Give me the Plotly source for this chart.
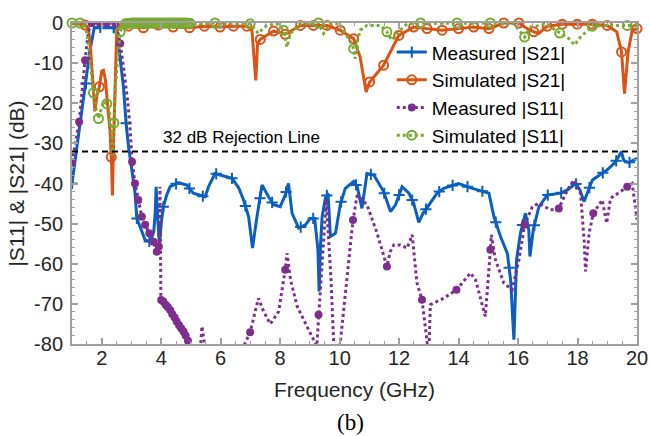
import numpy as np
import plotly.graph_objects as go

# ---------------- data (frequency in GHz, magnitude in dB) ----------------
ms21_f = [1.0, 1.2, 1.47, 1.6, 1.75, 2.0, 2.3, 2.45, 2.56, 2.73, 2.82, 2.9, 3.02, 3.12, 3.18, 3.3,
          3.46, 3.63, 3.75, 3.8, 3.83, 3.86, 3.94, 4.0, 4.07, 4.18, 4.3, 4.58, 4.86, 5.08, 5.3, 5.48,
          5.59, 5.81, 5.98, 6.2, 6.38, 6.6, 6.77, 6.94, 7.07, 7.22, 7.39, 7.61, 7.78, 8.0, 8.17, 8.28,
          8.4, 8.62, 8.85, 9.01, 9.16, 9.27, 9.31, 9.36, 9.41, 9.52, 9.61, 9.69, 9.86, 10.02, 10.19,
          10.47, 10.59, 10.75, 10.92, 11.15, 11.48, 11.71, 11.88, 12.1, 12.33, 12.49, 12.66, 12.8,
          13.0, 13.28, 13.5, 14.0, 14.46, 15.02, 15.19, 15.41, 15.64, 15.75, 15.86, 15.95, 16.08,
          16.25, 16.36, 16.4, 16.51, 16.7, 16.98, 17.43, 17.66, 17.94, 18.08, 18.22, 18.5, 19.0,
          19.28, 19.47, 19.56, 19.73, 20.0]
ms21_db = [-40, -29, -15.1, -7, -1.1, -1.1, -1.1, -1.2, -5.1, -15.9, -25, -30.8, -37, -42.4, -48.7, -51,
           -54.1, -54.5, -52, -47, -40.8, -46, -55.3, -50, -45.8, -43, -40.8, -39.8, -40.4, -42.4, -43, -43.3,
           -40.8, -37.5, -37.9, -38.3, -38.7, -41, -44.1, -48.3, -56.1, -48.3, -40.4, -43.3, -45.3, -45.8, -42.9, -40.0,
           -47.4, -51.1, -50.3, -48.7, -48.7, -56.5, -66.9, -55, -48.3, -43.7, -42.4, -53.2, -52.4, -45.3, -41.2,
           -39.5, -40.8, -46.2, -37.5, -37.9, -42.0, -47.0, -45.3, -40.8, -42.4, -44.9, -49.7, -47.5,
           -45.3, -42.4, -41.2, -40.0, -41.2, -42.4, -48.3, -53.2, -57.4, -64.0, -78.9, -59.0, -52.4,
           -47.4, -51.6, -58.2, -51.6, -45.8, -42.9, -42.4, -41.6, -40.0, -41.6, -44.5, -39.1, -36.6,
           -34.6, -32.1, -34.3, -34.8, -33.7]
ms21_mk = [1.0, 1.47, 1.95, 2.4, 2.82, 3.18, 3.6, 4.07, 4.5, 4.95, 5.4, 5.85, 6.38, 6.83, 7.32, 7.73,
           8.2, 8.69, 9.11, 9.57, 10.05, 10.55, 11.05, 11.5, 12.0, 12.44, 12.9, 13.35, 13.8, 14.3,
           14.8, 15.25, 15.7, 16.15, 16.55, 17.0, 17.45, 17.95, 18.4, 18.85, 19.3, 19.75]

ss21_f = [1.0, 1.2, 1.4, 1.5, 1.56, 1.62, 1.7, 1.77, 1.84, 1.92, 2.0, 2.06, 2.12, 2.19, 2.28, 2.33,
          2.36, 2.39, 2.45, 2.5, 2.58, 2.67, 2.9, 3.4, 3.9, 4.4, 4.95, 5.45, 5.98, 6.43, 6.88, 7.05,
          7.18, 7.24, 7.33, 7.78, 8.17, 8.68, 9.12, 9.58, 10.02, 10.47, 10.69, 10.89, 11.01, 11.48,
          11.99, 12.49, 12.94, 13.45, 14.0, 14.51, 15.02, 15.52, 16.03, 16.31, 16.53, 16.7, 16.98,
          17.49, 17.99, 18.5, 19.0, 19.32, 19.48, 19.58, 19.7, 19.84, 20.0]
ss21_db = [-0.2, -0.2, -0.3, -0.8, -2, -6, -14, -22, -18, -15.9, -12, -11.8, -14, -19.5, -27, -35,
           -43, -32, -15.1, -2.6, -0.8, -0.1, -0.8, -1.2, -0.5, -1, -1.2, -0.8, -1.0, -0.8, -0.8, -1.8,
           -14.3, -5.1, -4.1, -2.0, -2.8, -0.6, -0.6, -0.6, -1.8, -3.9, -8.5, -17.2, -14.7, -10.5,
           -3.1, -1.0, -1.4, -1.8, -1.4, -1.0, -1.4, 0, 0, -1.4, -2.2, -2.6, -0.8,
           -0.3, -0.3, -0.3, -0.6, -2.2, -7.2, -17.6, -7.2, -1.8, -1.4]
ss21_mk = [1.44, 1.92, 2.32, 2.9, 3.4, 3.9, 4.4, 4.95, 5.45, 5.98, 6.43, 6.88, 7.33, 7.78, 8.17, 8.68,
           9.12, 9.58, 10.02, 10.47, 11.01, 11.48, 11.99, 12.49, 12.94, 13.45, 14.0, 14.51, 15.02,
           15.52, 16.03, 16.53, 16.98, 17.49, 17.99, 18.5, 19.0, 19.48, 20.0]

ms11_f = [1.0, 1.24, 1.44, 1.55, 1.66, 1.8, 1.94, 2.05, 2.17, 2.3, 2.45, 2.52, 2.62, 2.75, 2.88, 2.95,
          3.02, 3.12, 3.23, 3.35, 3.46, 3.6, 3.74, 3.85, 3.92, 3.96, 3.99, 4.07, 4.15, 4.22, 4.3, 4.37,
          4.45, 4.52, 4.6, 4.67, 4.75, 4.82, 4.9, 4.97, 5.15, 5.3, 5.37, 5.45, 5.55, 6.5, 6.82, 6.99,
          7.1, 7.27, 7.45, 7.67, 7.95, 8.08, 8.17, 8.23, 8.35, 8.57, 8.9, 9.18, 9.22, 9.29, 9.41, 9.55,
          9.71, 9.8, 9.9, 10.02, 10.25, 10.45, 10.59, 10.92, 11.26, 11.59, 11.7, 11.82, 12.04, 12.27,
          12.44, 12.6, 12.77, 12.94, 13.0, 13.05, 13.5, 13.93, 14.4, 14.57, 14.9, 15.07, 15.1, 15.24,
          15.52, 15.8, 16.03, 16.22, 16.48, 16.7, 17.09, 17.37, 17.66, 17.88, 18.1, 18.22, 18.27,
          18.39, 18.53, 18.83, 18.98, 19.11, 19.67, 19.84, 20.0]
ms11_db = [-34.7, -24.6, -9.3, -2.2, 0, 0, 0, 0, 0, 0, 0, -1.5, -5.1, -12, -20, -26,
           -34.6, -40, -44.1, -48.3, -50.3, -52.4, -54.5, -57, -55.7, -40.8, -69.0, -69.4, -70.2, -70.8, -71.5, -72.5,
           -73.4, -74.4, -75.3, -76.1, -76.9, -77.9, -79.2, -80.5, -84, -83, -75.6, -79.5, -85, -86, -79.8, -77.1,
           -73.5, -68.6, -72, -75, -71.9, -66, -61.5, -57.4, -64, -70.6, -75.6, -79.8, -82, -72.7, -59.9, -44.1,
           -64, -79.8, -84, -79.8, -64, -49.1, -42.9, -45.3, -52.4, -60.7, -57, -55.3, -55.3, -56.1,
           -52.8, -64.8, -69, -79.8, -83, -70.2, -68.6, -66.5, -62.3, -64, -73.1, -56.5, -52.8, -59,
           -64.8, -66.5, -59, -50.3, -45.8, -44.9, -46.6, -46.2, -41.6, -39.1, -42.4, -54, -61.9,
           -52.4, -47.4, -44.1, -49.9, -43.7, -40.8, -40, -49]
ms11_mk = [1.0, 1.24, 1.44, 1.66, 1.94, 2.17, 2.45, 2.62, 3.02, 3.12, 3.23, 3.35, 3.46, 3.6, 3.74,
           3.85, 3.92, 4.0, 4.07, 4.15, 4.22, 4.3, 4.37, 4.45, 4.52, 4.6, 4.67, 4.75, 4.82, 4.9,
           6.99, 8.17, 9.29, 10.45, 11.59, 12.77, 13.93, 15.07, 16.22, 17.37, 18.53, 19.67]

ss11_f = [1.0, 1.27, 1.4, 1.5, 1.58, 1.66, 1.72, 1.8, 1.89, 1.98, 2.06, 2.17, 2.26, 2.32, 2.37, 2.41,
          2.47, 2.53, 2.62, 2.7, 2.78, 3.0, 3.5, 4.0, 4.5, 4.8, 5.3, 5.81, 6.4, 6.99, 7.15, 7.27, 7.4,
          7.55, 7.89, 8.11, 8.23, 8.34, 8.68, 9.0, 9.29, 9.46, 9.69, 10.0, 10.19, 10.35, 10.47, 10.52,
          10.6, 10.69, 10.92, 11.37, 11.59, 11.76, 11.93, 12.27, 12.72, 13.3, 13.95, 14.5, 15.07,
          15.86, 16.08, 16.22, 16.42, 16.98, 17.26, 17.4, 17.71, 17.9, 18.1, 18.5, 19.0, 19.67, 20.0]
ss11_db = [0, 0, -0.5, -2.5, -7, -14, -17.4, -21, -23.8, -21.5, -19.5, -20.1, -22, -28, -33, -24.9,
           -15, -9.3, -2.2, -0.6, -0.2, 0, 0, 0, 0, 0, -0.2, 0, -0.2, -0.2, -1.5, -2.6, -1.5,
           -0.6, -0.2, -1.8, -6.0, -2.6, -0.2, -0.3, 0, -2.6, -0.2, -0.2, -2.6, -4.5, -6.4, -8.9,
           -4.5, -1.8, -0.6, -0.6, -2.2, -4.3, -2.6, -0.2, 0, -0.1, 0, -0.1, 0,
           -0.2, -2.2, -3.5, -1.0, -0.3, -1.8, -2.5, -3.9, -5.5, -3.5, -0.8, -0.6, -0.6, -0.6]
ss11_mk = [1.0, 1.27, 1.72, 1.89, 2.17, 2.41, 2.62, 2.80, 2.87, 2.94, 3.01, 3.08, 3.15, 3.22, 3.29,
           3.36, 3.43, 3.50, 3.57, 3.64, 3.71, 3.78, 3.85, 3.92, 3.99, 4.06, 4.13, 4.20, 4.27, 4.34,
           4.41, 4.48, 4.55, 4.62, 4.69, 4.76, 4.83, 4.90, 4.97, 5.81, 6.99, 8.11, 9.29, 10.47,
           11.59, 12.72, 13.95, 15.07, 16.22, 17.4, 18.5, 19.67]

rejection_db = -32
rejection_label = "32 dB Rejection Line"
x_ticks = [2, 4, 6, 8, 10, 12, 14, 16, 18, 20]
y_ticks = [0, -10, -20, -30, -40, -50, -60, -70, -80]

# ---------------- styling ----------------
BLUE = "#0a5fbf"
ORANGE = "#dc5316"
PURPLE = "#7e2f8e"
GREEN = "#77ac30"
AXIS_GRAY = "#a0a0a0"
FONT = "Arial, Liberation Sans, sans-serif"

series = [
    dict(name="Measured |S21|", f=ms21_f, db=ms21_db, mk=ms21_mk, color=BLUE, dash="solid",
         marker=dict(symbol="cross-thin", size=8, line=dict(width=2, color=BLUE)), clip=True),
    dict(name="Simulated |S21|", f=ss21_f, db=ss21_db, mk=ss21_mk, color=ORANGE, dash="solid",
         marker=dict(symbol="circle-open", size=9, line=dict(width=2, color=ORANGE)), clip=False),
    dict(name="Measured |S11|", f=ms11_f, db=ms11_db, mk=ms11_mk, color=PURPLE, dash="dot",
         marker=dict(symbol="circle", size=8, color=PURPLE), clip=True),
    dict(name="Simulated |S11|", f=ss11_f, db=ss11_db, mk=ss11_mk, color=GREEN, dash="dot",
         marker=dict(symbol="circle-open", size=9, line=dict(width=2, color=GREEN)), clip=False),
]

fig = go.Figure()

for s in series:
    marker = dict(s["marker"])
    marker.setdefault("color", s["color"])
    # continuous response
    fig.add_trace(go.Scatter(
        x=s["f"], y=s["db"], mode="lines", showlegend=False, hoverinfo="skip",
        line=dict(color=s["color"], width=3, dash=s["dash"]),
    ))
    # markers placed along the same response
    mk_y = np.interp(s["mk"], s["f"], s["db"])
    fig.add_trace(go.Scatter(
        x=s["mk"], y=mk_y, mode="markers", showlegend=False, marker=marker,
        cliponaxis=s["clip"],
    ))
    # legend entry
    fig.add_trace(go.Scatter(
        x=[None], y=[None], mode="lines+markers", name=s["name"],
        line=dict(color=s["color"], width=3, dash=s["dash"]), marker=marker,
    ))

fig.add_shape(type="line", xref="x", yref="y", x0=1, x1=20, y0=rejection_db, y1=rejection_db,
              line=dict(color="black", width=2, dash="6px,4px"))
fig.add_annotation(x=4.0, y=rejection_db, xref="x", yref="y", text=rejection_label,
                   showarrow=False, xanchor="left", yanchor="bottom", yshift=2,
                   font=dict(family=FONT, size=17, color="black"))
fig.add_annotation(x=0.493, y=-0.245, xref="paper", yref="paper", text="(b)", showarrow=False,
                   xanchor="center", yanchor="middle",
                   font=dict(family="Times New Roman, Liberation Serif, serif", size=23, color="black"))

axis_common = dict(
    showline=True, linecolor=AXIS_GRAY, linewidth=2, mirror="allticks",
    ticks="inside", ticklen=6, tickwidth=1.5, tickcolor=AXIS_GRAY,
    showgrid=False, zeroline=False, automargin=False,
    tickfont=dict(family=FONT, size=20, color="#262626"),
)

fig.update_xaxes(
    range=[1, 20], tickvals=x_ticks, ticktext=[str(v) for v in x_ticks],
    ticklabelstandoff=-5,
    minor=dict(ticks="inside", ticklen=3, dtick=0.5, tick0=0, tickcolor=AXIS_GRAY, tickwidth=1.2),
    title=dict(text="Frequency (GHz)", font=dict(family=FONT, size=21, color="#262626"), standoff=14),
    **axis_common,
)
fig.update_yaxes(
    range=[-80, 0], tickvals=y_ticks, ticktext=[str(v) for v in y_ticks],
    ticklabelstandoff=3,
    minor=dict(ticks="inside", ticklen=3, dtick=2, tick0=0, tickcolor=AXIS_GRAY, tickwidth=1.2),
    title=dict(text="|S11| & |S21| (dB)", font=dict(family=FONT, size=21, color="#262626"), standoff=4),
    **axis_common,
)

fig.update_layout(
    width=650, height=436,
    margin=dict(l=72, r=13, t=23, b=92),
    paper_bgcolor="white", plot_bgcolor="white",
    font=dict(family=FONT, color="#262626"),
    legend=dict(x=0.566, y=0.968, xanchor="left", yanchor="top",
                bgcolor="rgba(255,255,255,0)", borderwidth=0,
                font=dict(family=FONT, size=19, color="black"),
                tracegroupgap=0, itemwidth=30),
    showlegend=True,
)

fig.write_html("out.html")
